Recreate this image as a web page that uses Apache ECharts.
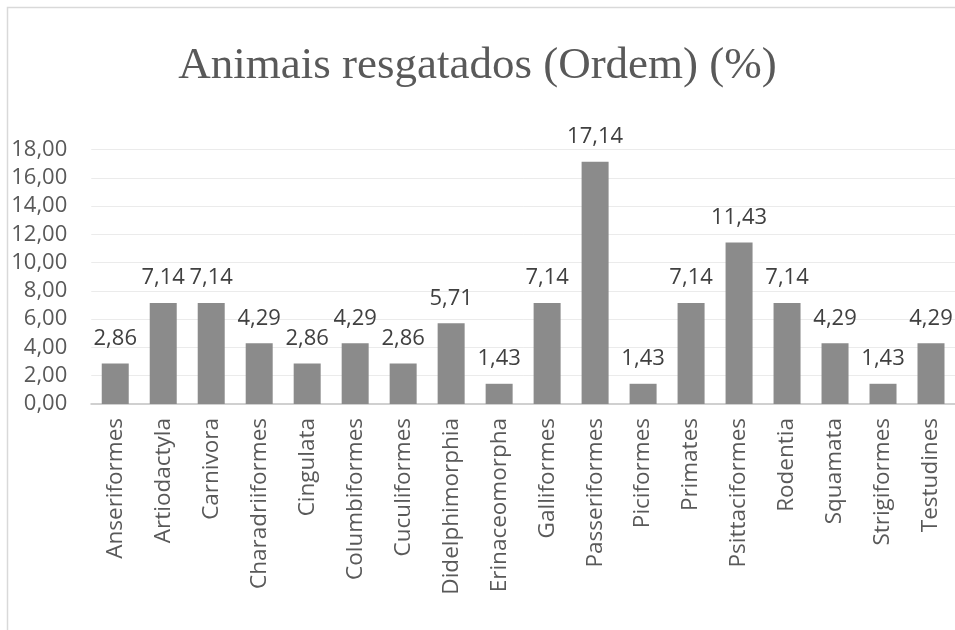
<!DOCTYPE html>
<html>
<head>
<meta charset="utf-8">
<script src="https://cdn.jsdelivr.net/npm/echarts@6/dist/echarts.min.js"></script>
<style>
  html, body { margin: 0; padding: 0; background: #fff; }
  #main { width: 955px; height: 630px; }
</style>
</head>
<body>
<div id="main"></div>
<script>
var categories = ['Anseriformes', 'Artiodactyla', 'Carnivora', 'Charadriiformes', 'Cingulata',
  'Columbiformes', 'Cuculiformes', 'Didelphimorphia', 'Erinaceomorpha', 'Galliformes',
  'Passeriformes', 'Piciformes', 'Primates', 'Psittaciformes', 'Rodentia', 'Squamata',
  'Strigiformes', 'Testudines'];
var percents = [2.86, 7.14, 7.14, 4.29, 2.86, 4.29, 2.86, 5.71, 1.43, 7.14,
  17.14, 1.43, 7.14, 11.43, 7.14, 4.29, 1.43, 4.29];

function comma(v) {
  return Number(v).toFixed(2).replace('.', ',');
}

var chart = echarts.init(document.getElementById('main'));
var option = {
  animation: false,
  backgroundColor: '#fff',
  title: {
    text: 'Animais resgatados (Ordem) (%)',
    left: 'center',
    top: 39,
    padding: [5, 5, 5, 31],
    textStyle: {
      fontFamily: 'Liberation Serif',
      fontWeight: 'normal',
      fontSize: 45,
      color: '#595959'
    }
  },
  graphic: [{
    type: 'rect',
    shape: { x: 7.5, y: 7.5, width: 1200, height: 900 },
    style: { fill: null, stroke: '#d9d9d9', lineWidth: 1.5 },
    silent: true
  }],
  grid: { left: 91.25, top: 149.5, width: 873, height: 254.5 },
  xAxis: {
    type: 'category',
    data: categories,
    axisTick: { show: false },
    axisLine: { lineStyle: { color: '#d0d0d0', width: 2 } },
    axisLabel: {
      rotate: 90,
      interval: 0,
      margin: 14,
      color: '#595959',
      fontFamily: 'Open Sans',
      fontSize: 22.5
    }
  },
  yAxis: {
    type: 'value',
    min: 0,
    max: 18,
    interval: 2,
    axisLine: { show: false },
    axisTick: { show: false },
    splitLine: { lineStyle: { color: '#ebebeb', width: 1 } },
    axisLabel: {
      margin: 24,
      color: '#595959',
      fontFamily: 'Open Sans',
      fontSize: 22,
      formatter: comma
    }
  },
  series: [{
    type: 'bar',
    data: percents,
    barWidth: 27,
    itemStyle: { color: '#8b8b8b' },
    label: {
      show: true,
      position: 'top',
      distance: 14,
      color: '#404040',
      fontFamily: 'Open Sans',
      fontSize: 22,
      formatter: function (p) { return comma(p.value); }
    }
  }]
};
chart.setOption(option);
</script>
</body>
</html>
